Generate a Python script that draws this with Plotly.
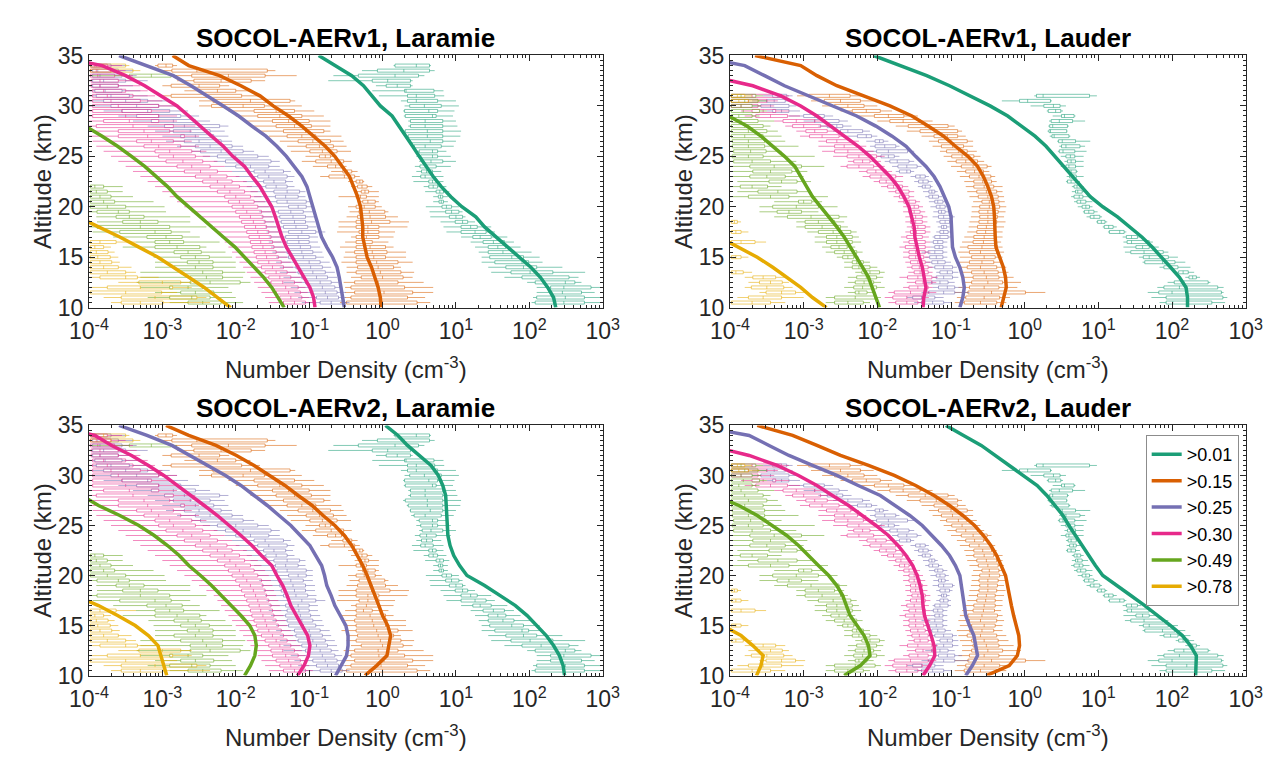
import plotly.graph_objects as go

FONT = "Liberation Sans"
AXC = "#262626"
COLORS = ["#1b9e77", "#d95f02", "#7570b3", "#e7298a", "#66a61e", "#e6ab02"]
BOX_COLORS = ["rgba(27,158,119,0.55)", "rgba(217,95,2,0.55)", "rgba(117,112,179,0.55)",
              "rgba(231,41,138,0.55)", "rgba(102,166,30,0.55)", "rgba(230,171,2,0.55)"]
BIN_LABELS = [">0.01", ">0.15", ">0.25", ">0.30", ">0.49", ">0.78"]
PANEL_TITLES = ["SOCOL-AERv1, Laramie", "SOCOL-AERv1, Lauder",
                "SOCOL-AERv2, Laramie", "SOCOL-AERv2, Lauder"]
X_TICK_EXP = [-4, -3, -2, -1, 0, 1, 2, 3]
Y_TICKS = [10, 15, 20, 25, 30, 35]

# model profiles: log10(number density, cm^-3) at these altitudes (km)
LINE_ALT = [10, 11, 12, 13, 14, 15, 16, 17, 18, 19, 20, 21, 22, 23, 24, 25, 26, 27, 28, 29, 30, 31, 32, 33, 34, 35]

V1_LAR_001 = [2.36, 2.33, 2.25, 2.15, 2.02, 1.86, 1.70, 1.55, 1.39, 1.27, 1.08, 0.93, 0.80, 0.69, 0.59, 0.50, 0.41, 0.32, 0.23, 0.13, -0.03, -0.15, -0.26, -0.42, -0.65, -0.87]
V1_LAR_015 = [-0.02, -0.03, -0.06, -0.10, -0.15, -0.21, -0.24, -0.27, -0.27, -0.28, -0.30, -0.34, -0.39, -0.45, -0.55, -0.65, -0.78, -0.94, -1.10, -1.28, -1.49, -1.67, -1.93, -2.22, -2.64, -2.86]
V1_LAR_025 = [-0.52, -0.54, -0.56, -0.59, -0.62, -0.68, -0.76, -0.83, -0.87, -0.91, -0.94, -0.98, -1.03, -1.10, -1.20, -1.31, -1.44, -1.59, -1.78, -1.96, -2.17, -2.38, -2.61, -2.85, -3.21, -3.59]
V1_LAR_030 = [-0.92, -0.94, -0.99, -1.07, -1.15, -1.23, -1.31, -1.37, -1.41, -1.46, -1.51, -1.59, -1.67, -1.78, -1.88, -2.04, -2.17, -2.33, -2.48, -2.64, -2.80, -3.01, -3.24, -3.50, -3.82, -4.50]
V1_LAR_049 = [-1.34, -1.42, -1.51, -1.62, -1.75, -1.88, -2.01, -2.17, -2.33, -2.48, -2.64, -2.80, -2.93, -3.08, -3.24, -3.42, -3.61, -3.82, -4.05, None, None, None, None, None, None, None]
V1_LAR_078 = [-2.07, -2.25, -2.43, -2.64, -2.85, -3.06, -3.32, -3.58, -3.87, -4.15, None, None, None, None, None, None, None, None, None, None, None, None, None, None, None, None]

V1_LAU_001 = [2.21, 2.21, 2.19, 2.10, 1.98, 1.86, 1.73, 1.59, 1.43, 1.26, 1.06, 0.89, 0.77, 0.65, 0.53, 0.42, 0.29, 0.14, -0.04, -0.23, -0.47, -0.75, -1.02, -1.33, -1.70, -2.05]
V1_LAU_015 = [-0.32, -0.28, -0.25, -0.26, -0.29, -0.34, -0.39, -0.40, -0.40, -0.41, -0.42, -0.45, -0.50, -0.56, -0.64, -0.77, -0.94, -1.10, -1.31, -1.53, -1.83, -2.18, -2.55, -2.82, -3.04, -3.66]
V1_LAU_025 = [-0.88, -0.84, -0.82, -0.84, -0.88, -0.94, -0.98, -0.99, -0.99, -1.00, -1.03, -1.09, -1.15, -1.23, -1.34, -1.48, -1.61, -1.80, -2.02, -2.28, -2.61, -2.91, -3.26, -3.53, -3.80, -4.50]
V1_LAU_030 = [-1.38, -1.37, -1.34, -1.36, -1.39, -1.43, -1.46, -1.49, -1.50, -1.53, -1.57, -1.64, -1.72, -1.83, -1.96, -2.10, -2.26, -2.45, -2.64, -2.82, -3.04, -3.31, -3.69, -4.30, None, None]
V1_LAU_049 = [-1.97, -2.02, -2.07, -2.12, -2.20, -2.28, -2.37, -2.45, -2.55, -2.66, -2.77, -2.88, -2.96, -3.04, -3.12, -3.26, -3.42, -3.58, -3.77, -4.02, None, None, None, None, None, None]
V1_LAU_078 = [-2.69, -2.88, -3.04, -3.23, -3.42, -3.63, -3.90, -4.15, None, None, None, None, None, None, None, None, None, None, None, None, None, None, None, None, None, None]

V2_LAR_001 = [2.48, 2.46, 2.41, 2.33, 2.23, 2.10, 1.97, 1.81, 1.60, 1.39, 1.15, 1.05, 0.97, 0.92, 0.89, 0.88, 0.87, 0.87, 0.86, 0.82, 0.76, 0.66, 0.50, 0.34, 0.21, 0.04]
V2_LAR_015 = [-0.24, -0.08, 0.06, 0.09, 0.11, 0.07, 0.00, -0.05, -0.10, -0.15, -0.21, -0.27, -0.34, -0.42, -0.52, -0.65, -0.81, -0.96, -1.15, -1.33, -1.54, -1.75, -1.99, -2.27, -2.64, -2.95]
V2_LAR_025 = [-0.64, -0.56, -0.49, -0.47, -0.47, -0.50, -0.57, -0.65, -0.70, -0.76, -0.79, -0.83, -0.91, -0.99, -1.12, -1.25, -1.41, -1.57, -1.75, -1.93, -2.14, -2.38, -2.61, -2.87, -3.21, -3.59]
V2_LAR_030 = [-1.16, -1.07, -1.01, -0.99, -1.02, -1.10, -1.17, -1.25, -1.30, -1.36, -1.44, -1.51, -1.65, -1.78, -1.93, -2.09, -2.25, -2.43, -2.61, -2.80, -2.98, -3.19, -3.42, -3.69, -3.92, -4.50]
V2_LAR_049 = [-1.88, -1.80, -1.74, -1.72, -1.74, -1.81, -1.93, -2.06, -2.19, -2.33, -2.48, -2.64, -2.77, -2.93, -3.11, -3.32, -3.58, -3.87, -4.10, None, None, None, None, None, None, None]
V2_LAR_078 = [-2.94, -2.98, -3.01, -3.06, -3.19, -3.37, -3.61, -3.87, -4.20, None, None, None, None, None, None, None, None, None, None, None, None, None, None, None, None, None]

V2_LAU_001 = [2.32, 2.33, 2.33, 2.25, 2.14, 1.98, 1.81, 1.63, 1.44, 1.25, 1.06, 0.96, 0.87, 0.78, 0.68, 0.60, 0.52, 0.41, 0.30, 0.17, -0.02, -0.21, -0.40, -0.59, -0.83, -1.07]
V2_LAU_015 = [-0.52, -0.21, -0.10, -0.07, -0.08, -0.12, -0.15, -0.18, -0.21, -0.24, -0.26, -0.32, -0.38, -0.46, -0.56, -0.68, -0.84, -1.02, -1.23, -1.48, -1.77, -2.12, -2.50, -2.82, -3.15, -3.63]
V2_LAU_025 = [-0.80, -0.71, -0.64, -0.66, -0.69, -0.75, -0.80, -0.82, -0.84, -0.86, -0.88, -0.94, -1.02, -1.13, -1.26, -1.39, -1.56, -1.75, -1.96, -2.26, -2.55, -2.88, -3.20, -3.47, -3.74, -4.50]
V2_LAU_030 = [-1.38, -1.29, -1.22, -1.23, -1.27, -1.32, -1.36, -1.38, -1.39, -1.42, -1.46, -1.52, -1.61, -1.72, -1.85, -2.02, -2.20, -2.39, -2.61, -2.82, -3.07, -3.36, -3.74, -4.30, None, None]
V2_LAU_049 = [-2.45, -2.23, -2.10, -2.12, -2.18, -2.28, -2.37, -2.42, -2.47, -2.55, -2.66, -2.80, -2.93, -3.07, -3.23, -3.42, -3.63, -3.88, -4.20, None, None, None, None, None, None, None]
V2_LAU_078 = [-3.64, -3.58, -3.55, -3.69, -3.85, -4.10, None, None, None, None, None, None, None, None, None, None, None, None, None, None, None, None, None, None, None, None]

# balloon observations: (altitude km, log10 of lower whisker, q1, median, q3, upper whisker)
LAR_BOX_001 = [
    (10.5, 2.03, 2.08, 2.47, 2.75, 2.97), (11.0, 2.05, 2.10, 2.49, 2.75, 2.97),
    (11.5, 2.10, 2.29, 2.45, 2.71, 2.89), (12.0, 2.10, 2.29, 2.47, 2.84, 2.97),
    (12.5, 1.97, 2.08, 2.49, 2.62, 2.71), (13.0, 1.66, 1.90, 2.16, 2.54, 2.67),
    (13.5, 1.48, 1.75, 2.01, 2.32, 2.76), (14.0, 1.44, 1.68, 1.92, 2.10, 2.45),
    (14.5, 1.35, 1.53, 1.90, 1.99, 2.18), (15.0, 1.35, 1.46, 1.76, 1.92, 2.14),
    (15.5, 1.31, 1.44, 1.64, 1.79, 2.03), (16.0, 1.26, 1.44, 1.57, 1.68, 1.88),
    (16.5, 1.20, 1.37, 1.51, 1.66, 1.79), (17.0, 1.07, 1.23, 1.33, 1.48, 1.70),
    (17.5, 0.87, 1.07, 1.26, 1.41, 1.53), (18.0, 0.83, 1.07, 1.20, 1.29, 1.48),
    (18.5, 0.79, 0.99, 1.09, 1.16, 1.26), (19.0, 0.65, 0.91, 1.00, 1.09, 1.13),
    (19.5, 0.64, 0.86, 0.94, 1.04, 1.09), (20.0, 0.59, 0.81, 0.87, 0.94, 1.04),
    (20.5, 0.69, 0.77, 0.80, 0.83, 0.89), (21.0, 0.69, 0.76, 0.79, 0.82, 0.89),
    (21.5, 0.58, 0.73, 0.78, 0.83, 0.91), (22.0, 0.56, 0.63, 0.69, 0.75, 0.87),
    (22.5, 0.42, 0.63, 0.68, 0.73, 0.83), (23.0, 0.40, 0.52, 0.58, 0.69, 0.83),
    (23.5, 0.46, 0.53, 0.60, 0.68, 0.80), (24.0, 0.44, 0.51, 0.60, 0.73, 0.93),
    (24.5, 0.50, 0.54, 0.66, 0.82, 1.00), (25.0, 0.46, 0.52, 0.68, 0.75, 0.93),
    (25.5, 0.46, 0.50, 0.68, 0.75, 0.87), (26.0, 0.39, 0.43, 0.58, 0.80, 0.97),
    (26.5, 0.37, 0.38, 0.65, 0.82, 1.00), (27.0, 0.33, 0.35, 0.61, 0.82, 1.06),
    (27.5, 0.28, 0.31, 0.61, 0.82, 1.07), (28.0, 0.35, 0.38, 0.58, 0.82, 1.02),
    (28.5, 0.35, 0.38, 0.58, 0.82, 1.00), (29.0, 0.29, 0.31, 0.68, 0.73, 0.96),
    (29.5, 0.28, 0.30, 0.63, 0.75, 0.98), (30.0, 0.30, 0.37, 0.57, 0.80, 1.04),
    (30.5, 0.25, 0.34, 0.46, 0.75, 1.00), (31.0, -0.05, 0.34, 0.46, 0.71, 0.84),
    (31.5, -0.14, 0.30, 0.32, 0.70, 0.83), (32.0, -0.09, 0.05, 0.20, 0.38, 0.41),
    (32.5, -0.74, -0.14, 0.07, 0.38, 0.41), (33.0, -0.67, -0.33, 0.17, 0.49, 0.57),
    (33.5, -0.28, -0.07, 0.29, 0.64, 0.71), (34.0, 0.15, 0.17, 0.46, 0.64, 0.66),
]
LAR_BOX_015 = [
    (10.5, -0.58, -0.49, 0.00, 0.47, 0.65), (11.0, -0.51, -0.43, -0.02, 0.34, 0.58),
    (11.5, -0.51, -0.38, 0.02, 0.41, 0.69), (12.0, -0.51, -0.43, -0.05, 0.30, 0.69),
    (12.5, -0.53, -0.38, -0.06, 0.21, 0.56), (13.0, -0.43, -0.29, 0.00, 0.28, 0.41),
    (13.5, -0.49, -0.36, -0.03, 0.25, 0.43), (14.0, -0.49, -0.34, -0.06, 0.15, 0.25),
    (14.5, -0.56, -0.36, -0.08, 0.21, 0.41), (15.0, -0.53, -0.36, -0.12, 0.04, 0.32),
    (15.5, -0.51, -0.38, -0.14, 0.06, 0.32), (16.0, -0.58, -0.36, -0.17, 0.04, 0.15),
    (16.5, -0.51, -0.36, -0.26, -0.14, 0.08), (17.0, -0.43, -0.36, -0.22, -0.05, 0.15),
    (17.5, -0.62, -0.32, -0.20, -0.05, 0.17), (18.0, -0.60, -0.36, -0.20, -0.05, 0.34),
    (18.5, -0.60, -0.36, -0.15, 0.10, 0.36), (19.0, -0.49, -0.34, -0.17, 0.04, 0.21),
    (19.5, -0.45, -0.32, -0.18, 0.03, 0.08), (20.0, -0.47, -0.36, -0.25, -0.10, -0.01),
    (20.5, -0.34, -0.27, -0.20, -0.10, -0.05), (21.0, -0.60, -0.36, -0.30, -0.22, -0.05),
    (21.5, -0.38, -0.29, -0.24, -0.19, -0.05), (22.0, -0.43, -0.34, -0.28, -0.21, -0.14),
    (22.5, -0.47, -0.36, -0.31, -0.27, -0.25), (23.0, -0.85, -0.73, -0.52, -0.38, -0.31),
    (23.5, -0.70, -0.54, -0.48, -0.42, -0.34), (24.0, -0.95, -0.75, -0.64, -0.56, -0.49),
    (24.5, -1.10, -0.91, -0.70, -0.53, -0.42), (25.0, -1.05, -0.86, -0.78, -0.71, -0.64),
    (25.5, -1.25, -0.99, -0.82, -0.62, -0.43), (26.0, -1.30, -1.04, -0.86, -0.67, -0.49),
    (26.5, -1.40, -1.15, -0.95, -0.71, -0.53), (27.0, -1.55, -1.30, -1.10, -0.91, -0.56),
    (27.5, -1.70, -1.35, -1.05, -0.80, -0.71), (28.0, -1.80, -1.45, -1.20, -0.97, -0.71),
    (28.5, -1.85, -1.50, -1.28, -1.00, -0.71), (29.0, -2.00, -1.70, -1.40, -1.10, -0.80),
    (29.5, -2.10, -1.75, -1.45, -1.20, -0.93), (30.0, -2.50, -2.33, -1.90, -1.61, -1.10),
    (30.5, -2.50, -2.31, -1.80, -1.26, -1.19), (31.0, -3.00, -2.88, -2.40, -1.92, -1.67),
    (31.5, -2.70, -2.50, -2.25, -2.00, -1.80), (32.0, -3.00, -2.88, -2.50, -2.22, -2.09),
    (32.5, -2.80, -2.57, -2.20, -1.79, -1.60), (33.0, -2.90, -2.60, -2.10, -1.60, -1.17),
    (33.5, -3.00, -2.87, -2.53, -1.57, -1.46), (34.0, -3.10, -3.06, -2.95, -2.86, -2.80),
]
LAR_BOX_025 = [
    (10.5, -1.10, -0.85, -0.70, -0.55, -0.45), (11.0, -1.15, -0.90, -0.75, -0.60, -0.50),
    (11.5, -1.20, -0.95, -0.78, -0.62, -0.50), (12.0, -1.25, -1.00, -0.82, -0.65, -0.55),
    (12.5, -1.35, -1.05, -0.85, -0.70, -0.60), (13.0, -1.35, -1.10, -0.90, -0.75, -0.62),
    (13.5, -1.40, -1.15, -0.95, -0.78, -0.65), (14.0, -1.40, -1.18, -0.98, -0.82, -0.70),
    (14.5, -1.45, -1.20, -1.00, -0.85, -0.72), (15.0, -1.45, -1.28, -1.08, -0.91, -0.80),
    (15.5, -1.50, -1.30, -1.10, -0.95, -0.82), (16.0, -1.52, -1.32, -1.12, -0.98, -0.85),
    (16.5, -1.55, -1.30, -1.14, -1.00, -0.88), (17.0, -1.55, -1.32, -1.15, -1.00, -0.88),
    (17.5, -1.58, -1.28, -1.10, -0.91, -0.78), (18.0, -1.60, -1.35, -1.18, -1.02, -0.90),
    (18.5, -1.62, -1.38, -1.20, -1.05, -0.92), (19.0, -1.65, -1.40, -1.22, -1.05, -0.92),
    (19.5, -1.68, -1.42, -1.25, -1.08, -0.95), (20.0, -1.70, -1.28, -1.15, -1.04, -0.95),
    (20.5, -1.75, -1.44, -1.30, -1.04, -0.95), (21.0, -1.75, -1.46, -1.32, -1.15, -1.05),
    (21.5, -1.80, -1.48, -1.30, -1.13, -1.05), (22.0, -1.85, -1.59, -1.45, -1.30, -1.20),
    (22.5, -1.90, -1.62, -1.48, -1.32, -1.22), (23.0, -2.00, -1.70, -1.55, -1.30, -1.20),
    (23.5, -2.05, -1.75, -1.60, -1.35, -1.25), (24.0, -2.15, -2.00, -1.80, -1.55, -1.40),
    (24.5, -2.30, -2.14, -1.90, -1.52, -1.40), (25.0, -2.45, -2.25, -2.00, -1.70, -1.55),
    (25.5, -2.60, -2.48, -2.20, -1.90, -1.75), (26.0, -2.80, -2.55, -2.35, -2.05, -1.90),
    (26.5, -2.95, -2.70, -2.50, -2.20, -2.05), (27.0, -3.00, -2.75, -2.55, -2.30, -2.10),
    (27.5, -3.10, -2.85, -2.62, -2.35, -2.15), (28.0, -3.20, -2.97, -2.70, -2.22, -2.10),
    (28.5, -3.40, -3.15, -2.85, -2.55, -2.35), (29.0, -3.60, -3.35, -3.05, -2.75, -2.50),
    (29.5, -3.80, -3.55, -3.20, -2.90, -2.65), (30.0, -4.20, -3.70, -3.35, -3.05, -2.80),
    (30.5, -4.20, -3.80, -3.50, -3.20, -2.90), (31.0, -4.20, -3.90, -3.70, -3.45, -3.20),
    (31.5, -4.20, -3.92, -3.78, -3.55, -3.30), (32.0, -4.20, -3.95, -3.85, -3.60, -3.40),
    (32.5, -4.20, -3.95, -3.80, -3.50, -3.20), (33.0, -4.20, -3.95, -3.85, -3.55, -3.35),
    (33.5, -4.20, -3.95, -3.88, -3.60, -3.40), (34.0, -4.20, -3.97, -3.90, -3.70, -3.50),
]
LAR_BOX_030 = [
    (10.5, -1.55, -1.35, -1.20, -1.05, -0.95), (11.0, -1.60, -1.40, -1.25, -1.10, -1.00),
    (11.5, -1.65, -1.45, -1.28, -1.12, -1.02), (12.0, -1.70, -1.50, -1.32, -1.15, -1.05),
    (12.5, -1.75, -1.52, -1.36, -1.20, -1.10), (13.0, -1.80, -1.55, -1.40, -1.25, -1.12),
    (13.5, -1.85, -1.60, -1.45, -1.30, -1.18), (14.0, -1.90, -1.65, -1.50, -1.35, -1.22),
    (14.5, -1.95, -1.70, -1.55, -1.38, -1.25), (15.0, -2.00, -1.72, -1.58, -1.42, -1.30),
    (15.5, -2.05, -1.75, -1.60, -1.45, -1.32), (16.0, -2.10, -1.78, -1.63, -1.48, -1.35),
    (16.5, -2.15, -1.80, -1.66, -1.50, -1.38), (17.0, -2.20, -1.82, -1.68, -1.52, -1.40),
    (17.5, -2.25, -1.85, -1.70, -1.55, -1.42), (18.0, -2.30, -1.88, -1.73, -1.58, -1.45),
    (18.5, -2.40, -1.92, -1.76, -1.60, -1.48), (19.0, -2.50, -1.95, -1.80, -1.63, -1.50),
    (19.5, -2.60, -2.00, -1.85, -1.65, -1.52), (20.0, -2.70, -2.05, -1.90, -1.70, -1.55),
    (20.5, -2.80, -2.10, -1.95, -1.75, -1.60), (21.0, -2.90, -2.15, -2.00, -1.80, -1.65),
    (21.5, -3.00, -2.25, -2.08, -1.88, -1.70), (22.0, -3.10, -2.35, -2.15, -1.95, -1.78),
    (22.5, -3.20, -2.45, -2.25, -2.05, -1.85), (23.0, -3.30, -2.55, -2.35, -2.12, -1.95),
    (23.5, -3.40, -2.70, -2.48, -2.25, -2.05), (24.0, -3.50, -2.80, -2.60, -2.35, -2.15),
    (24.5, -3.60, -2.95, -2.72, -2.45, -2.25), (25.0, -3.70, -3.05, -2.85, -2.55, -2.35),
    (25.5, -3.80, -3.10, -2.90, -2.60, -2.40), (26.0, -3.90, -3.25, -3.05, -2.75, -2.50),
    (26.5, -3.95, -3.35, -3.15, -2.85, -2.60), (27.0, -4.20, -3.60, -3.20, -2.70, -2.50),
    (27.5, -4.20, -3.60, -3.25, -2.90, -2.60), (28.0, -4.20, -3.90, -3.40, -2.85, -2.55),
    (28.5, -4.20, -3.80, -3.45, -3.05, -2.80), (29.0, -4.20, -3.95, -3.50, -3.05, -2.80),
    (29.5, -4.20, -3.95, -3.55, -3.15, -2.90), (30.0, -4.20, -3.95, -3.60, -3.05, -2.80),
    (30.5, -4.20, -3.95, -3.70, -3.30, -3.00), (31.0, -4.20, -3.95, -3.75, -3.40, -3.10),
    (31.5, -4.20, -3.95, -3.80, -3.50, -3.20), (32.0, -4.20, -3.97, -3.85, -3.60, -3.30),
    (32.5, -4.20, -3.97, -3.85, -3.60, -3.35), (33.0, -4.20, -3.98, -3.88, -3.65, -3.40),
    (33.5, -4.20, -3.98, -3.90, -3.70, -3.50), (34.0, -4.20, -3.98, -3.92, -3.75, -3.55),
]
LAR_BOX_049 = [
    (10.5, -2.90, -2.65, -2.45, -2.20, -1.90), (11.0, -3.20, -2.90, -2.60, -2.35, -2.00),
    (11.5, -3.10, -2.75, -2.55, -2.30, -2.05), (12.0, -3.30, -2.90, -2.65, -2.45, -2.10),
    (12.5, -3.35, -2.62, -2.35, -1.94, -1.80), (13.0, -3.30, -2.62, -2.40, -2.18, -1.90),
    (13.5, -3.30, -2.75, -2.45, -2.18, -1.87), (14.0, -3.10, -2.84, -2.55, -2.31, -2.00),
    (14.5, -3.10, -2.66, -2.50, -2.31, -2.00), (15.0, -3.12, -2.75, -2.55, -2.36, -2.05),
    (15.5, -3.19, -2.84, -2.65, -2.47, -2.14), (16.0, -3.54, -3.10, -2.80, -2.49, -2.40),
    (16.5, -3.36, -3.10, -2.90, -2.71, -2.22), (17.0, -3.67, -3.21, -2.95, -2.73, -2.49),
    (17.5, -3.95, -3.58, -3.10, -2.88, -2.62), (18.0, -4.20, -3.89, -3.30, -2.90, -2.40),
    (18.5, -3.89, -3.54, -3.30, -3.06, -2.62), (19.0, -3.90, -3.63, -3.45, -3.25, -2.62),
    (19.5, -4.20, -3.89, -3.60, -3.45, -2.95), (20.0, -4.20, -3.98, -3.75, -3.50, -2.97),
    (20.5, -4.20, -3.98, -3.80, -3.65, -3.12), (21.0, -4.20, -3.98, -3.85, -3.70, -3.40),
    (21.5, -4.20, -3.98, -3.90, -3.75, -3.54), (22.0, -4.20, -3.98, -3.92, -3.80, -3.54),
    (33.0, -4.20, -3.45, -3.15, -2.88, -2.80),
]
LAR_BOX_078 = [
    (10.5, -3.70, -3.56, -3.30, -2.99, -2.35), (11.0, -3.80, -3.56, -3.10, -2.53, -2.40),
    (11.5, -4.20, -3.98, -3.50, -3.01, -2.80), (12.0, -4.20, -3.75, -3.30, -2.86, -2.60),
    (12.5, -3.60, -3.32, -3.00, -2.75, -2.60), (13.0, -4.20, -3.85, -3.50, -3.34, -3.05),
    (13.5, -4.20, -3.98, -3.75, -3.50, -3.36), (14.0, -4.20, -3.98, -3.80, -3.60, -3.42),
    (14.5, -4.20, -3.98, -3.85, -3.69, -3.58), (15.0, -4.20, -3.98, -3.88, -3.71, -3.60),
    (15.5, -4.20, -3.98, -3.90, -3.74, -3.65), (16.0, -4.20, -3.98, -3.92, -3.80, -3.70),
    (16.5, -4.20, -3.98, -3.85, -3.63, -3.36), (33.5, -4.20, -3.98, -3.70, -3.40, -3.30),
    (34.0, -4.20, -3.98, -3.80, -3.50, -3.45),
]

LAU_BOX_001 = [
    (10.5, 1.83, 1.92, 2.01, 2.54, 2.72), (11.0, 1.72, 1.92, 2.20, 2.69, 2.75),
    (11.5, 1.67, 1.82, 2.00, 2.67, 2.70), (12.0, 1.80, 1.89, 2.10, 2.62, 2.70),
    (12.5, 1.94, 2.03, 2.16, 2.49, 2.52), (13.0, 2.18, 2.23, 2.28, 2.33, 2.38),
    (13.5, 2.05, 2.09, 2.15, 2.22, 2.30), (14.0, 1.83, 1.89, 1.98, 2.08, 2.25),
    (14.5, 1.60, 1.63, 1.87, 2.04, 2.18), (15.0, 1.55, 1.61, 1.69, 1.95, 2.08),
    (15.5, 1.36, 1.44, 1.62, 1.88, 1.95), (16.0, 1.34, 1.51, 1.60, 1.69, 1.82),
    (16.5, 1.34, 1.39, 1.45, 1.69, 1.74), (17.0, 1.33, 1.38, 1.45, 1.53, 1.58),
    (17.5, 1.13, 1.15, 1.29, 1.35, 1.38), (18.0, 1.06, 1.08, 1.14, 1.20, 1.25),
    (18.5, 0.97, 0.99, 1.04, 1.09, 1.12), (19.0, 0.84, 0.89, 0.94, 1.02, 1.05),
    (19.5, 0.79, 0.81, 0.87, 0.94, 0.99), (20.0, 0.72, 0.78, 0.83, 0.88, 0.92),
    (20.5, 0.67, 0.71, 0.76, 0.83, 0.92), (21.0, 0.63, 0.67, 0.74, 0.79, 0.88),
    (21.5, 0.64, 0.69, 0.72, 0.78, 0.86), (22.0, 0.64, 0.67, 0.71, 0.76, 0.80),
    (22.5, 0.56, 0.58, 0.63, 0.69, 0.75), (23.0, 0.57, 0.61, 0.66, 0.70, 0.80),
    (23.5, 0.56, 0.59, 0.63, 0.70, 0.72), (24.0, 0.49, 0.56, 0.60, 0.69, 0.80),
    (24.5, 0.54, 0.58, 0.63, 0.69, 0.80), (25.0, 0.49, 0.56, 0.62, 0.68, 0.80),
    (25.5, 0.45, 0.47, 0.52, 0.68, 0.84), (26.0, 0.47, 0.50, 0.56, 0.75, 0.82),
    (26.5, 0.44, 0.46, 0.51, 0.69, 0.89), (27.0, 0.34, 0.37, 0.40, 0.60, 0.62),
    (27.5, 0.31, 0.33, 0.35, 0.57, 0.58), (28.0, 0.32, 0.34, 0.38, 0.58, 0.60),
    (28.5, 0.33, 0.36, 0.47, 0.65, 0.82), (29.0, 0.38, 0.50, 0.54, 0.67, 0.69),
    (29.5, 0.30, 0.32, 0.42, 0.49, 0.52), (30.0, 0.08, 0.26, 0.39, 0.48, 0.56),
    (30.5, -0.31, -0.07, 0.04, 0.35, 0.37), (31.0, 0.13, 0.16, 0.25, 0.88, 0.98),
]
LAU_BOX_015 = [
    (10.5, -0.95, -0.82, -0.60, -0.38, -0.25), (11.0, -0.92, -0.80, -0.55, -0.34, -0.20),
    (11.5, -0.95, -0.77, -0.45, 0.01, 0.28), (12.0, -0.90, -0.75, -0.55, -0.35, -0.10),
    (12.5, -0.85, -0.72, -0.50, -0.30, -0.05), (13.0, -0.85, -0.70, -0.52, -0.35, -0.15),
    (13.5, -0.88, -0.72, -0.55, -0.36, -0.22), (14.0, -0.90, -0.78, -0.60, -0.38, -0.25),
    (14.5, -0.92, -0.75, -0.58, -0.42, -0.30), (15.0, -0.88, -0.72, -0.55, -0.40, -0.30),
    (15.5, -0.90, -0.75, -0.60, -0.38, -0.28), (16.0, -0.88, -0.77, -0.58, -0.37, -0.30),
    (16.5, -0.85, -0.70, -0.56, -0.41, -0.32), (17.0, -0.82, -0.69, -0.55, -0.40, -0.30),
    (17.5, -0.78, -0.65, -0.53, -0.40, -0.30), (18.0, -0.76, -0.64, -0.52, -0.40, -0.28),
    (18.5, -0.75, -0.62, -0.50, -0.38, -0.26), (19.0, -0.73, -0.61, -0.50, -0.37, -0.28),
    (19.5, -0.72, -0.62, -0.50, -0.36, -0.26), (20.0, -0.72, -0.61, -0.48, -0.34, -0.25),
    (20.5, -0.70, -0.58, -0.48, -0.35, -0.27), (21.0, -0.75, -0.63, -0.50, -0.36, -0.28),
    (21.5, -0.78, -0.65, -0.52, -0.38, -0.30), (22.0, -0.80, -0.69, -0.55, -0.42, -0.30),
    (22.5, -0.82, -0.69, -0.57, -0.45, -0.38), (23.0, -0.88, -0.75, -0.62, -0.46, -0.40),
    (23.5, -0.92, -0.80, -0.68, -0.56, -0.48), (24.0, -1.00, -0.86, -0.70, -0.51, -0.45),
    (24.5, -1.05, -0.93, -0.80, -0.64, -0.55), (25.0, -1.10, -0.99, -0.85, -0.69, -0.60),
    (25.5, -1.15, -1.06, -0.90, -0.78, -0.65), (26.0, -1.25, -1.13, -0.98, -0.83, -0.70),
    (26.5, -1.30, -1.17, -1.00, -0.78, -0.70), (27.0, -1.40, -1.23, -1.05, -0.91, -0.80),
    (27.5, -1.60, -1.42, -1.20, -0.91, -0.85), (28.0, -1.75, -1.58, -1.35, -1.04, -0.95),
    (28.5, -2.00, -1.83, -1.65, -1.42, -1.25), (29.0, -2.25, -2.04, -1.85, -1.64, -1.45),
    (29.5, -2.50, -2.34, -2.15, -1.96, -1.80), (30.0, -2.75, -2.58, -2.40, -2.18, -2.00),
    (30.5, -2.90, -2.72, -2.50, -2.23, -2.05), (31.0, -3.09, -2.93, -2.65, -2.37, -2.20),
]
LAU_BOX_025 = [
    (10.5, -1.50, -1.40, -1.25, -1.10, -1.00), (11.0, -1.60, -1.52, -1.40, -1.22, -1.10),
    (11.5, -1.40, -1.30, -1.10, -0.95, -0.75), (12.0, -1.25, -1.17, -1.05, -0.95, -0.85),
    (12.5, -1.35, -1.26, -1.15, -1.04, -0.95), (13.0, -1.25, -1.20, -1.10, -0.98, -0.90),
    (13.5, -1.20, -1.15, -1.05, -0.98, -0.90), (14.0, -1.30, -1.22, -1.10, -0.98, -0.92),
    (14.5, -1.34, -1.26, -1.18, -1.08, -1.00), (15.0, -1.35, -1.29, -1.20, -1.11, -1.05),
    (15.5, -1.40, -1.31, -1.22, -1.11, -1.05), (16.0, -1.28, -1.22, -1.16, -1.11, -1.05),
    (16.5, -1.28, -1.24, -1.18, -1.11, -1.05), (17.0, -1.25, -1.22, -1.15, -1.04, -1.00),
    (17.5, -1.20, -1.15, -1.10, -1.04, -1.00), (18.0, -1.18, -1.13, -1.10, -1.06, -1.02),
    (18.5, -1.20, -1.15, -1.08, -1.02, -0.98), (19.0, -1.25, -1.17, -1.10, -0.98, -0.95),
    (19.5, -1.24, -1.17, -1.13, -1.08, -1.03), (20.0, -1.28, -1.20, -1.15, -1.08, -1.03),
    (20.5, -1.30, -1.22, -1.18, -1.11, -1.05), (21.0, -1.35, -1.30, -1.25, -1.17, -1.12),
    (21.5, -1.38, -1.30, -1.26, -1.22, -1.18), (22.0, -1.45, -1.39, -1.35, -1.28, -1.25),
    (22.5, -1.50, -1.44, -1.38, -1.31, -1.25), (23.0, -1.55, -1.48, -1.42, -1.35, -1.30),
    (23.5, -1.75, -1.70, -1.60, -1.55, -1.50), (24.0, -1.80, -1.72, -1.60, -1.46, -1.40),
    (24.5, -1.90, -1.83, -1.73, -1.57, -1.50), (25.0, -2.00, -1.95, -1.85, -1.77, -1.70),
    (25.5, -2.15, -2.01, -1.85, -1.59, -1.50), (26.0, -2.10, -2.03, -1.90, -1.75, -1.70),
    (26.5, -2.15, -2.03, -1.97, -1.92, -1.85), (27.0, -2.40, -2.27, -2.15, -2.08, -2.00),
    (27.5, -2.60, -2.50, -2.40, -2.20, -2.10), (28.0, -2.80, -2.68, -2.55, -2.47, -2.35),
    (28.5, -3.00, -2.85, -2.72, -2.52, -2.40), (29.0, -3.20, -3.00, -2.85, -2.72, -2.60),
    (29.5, -3.50, -3.42, -3.30, -3.20, -3.05), (30.0, -3.70, -3.58, -3.45, -3.20, -3.10),
    (30.5, -3.70, -3.50, -3.40, -3.25, -3.15), (31.0, -3.55, -3.42, -3.35, -3.23, -3.15),
]
LAU_BOX_030 = [
    (10.5, -1.85, -1.75, -1.60, -1.45, -1.35), (11.0, -1.90, -1.79, -1.60, -1.39, -1.30),
    (11.5, -1.85, -1.77, -1.55, -1.31, -1.20), (12.0, -1.65, -1.57, -1.45, -1.31, -1.25),
    (12.5, -1.60, -1.48, -1.38, -1.26, -1.20), (13.0, -1.70, -1.59, -1.45, -1.26, -1.18),
    (13.5, -1.58, -1.50, -1.42, -1.31, -1.25), (14.0, -1.60, -1.53, -1.43, -1.31, -1.25),
    (14.5, -1.62, -1.55, -1.45, -1.35, -1.28), (15.0, -1.65, -1.57, -1.48, -1.37, -1.30),
    (15.5, -1.65, -1.57, -1.48, -1.35, -1.28), (16.0, -1.70, -1.62, -1.50, -1.35, -1.28),
    (16.5, -1.65, -1.57, -1.48, -1.35, -1.28), (17.0, -1.68, -1.60, -1.50, -1.39, -1.30),
    (17.5, -1.62, -1.55, -1.47, -1.35, -1.28), (18.0, -1.60, -1.53, -1.45, -1.35, -1.28),
    (18.5, -1.62, -1.55, -1.48, -1.39, -1.32), (19.0, -1.62, -1.55, -1.48, -1.39, -1.32),
    (19.5, -1.65, -1.57, -1.50, -1.42, -1.35), (20.0, -1.65, -1.57, -1.50, -1.44, -1.38),
    (20.5, -1.72, -1.64, -1.57, -1.48, -1.42), (21.0, -1.78, -1.70, -1.63, -1.57, -1.50),
    (21.5, -1.85, -1.75, -1.68, -1.57, -1.50), (22.0, -1.95, -1.86, -1.78, -1.66, -1.58),
    (22.5, -2.05, -1.97, -1.88, -1.75, -1.65), (23.0, -2.20, -2.10, -1.95, -1.75, -1.65),
    (23.5, -2.25, -2.14, -2.02, -1.88, -1.80), (24.0, -2.50, -2.41, -2.25, -2.05, -1.90),
    (24.5, -2.40, -2.32, -2.20, -2.10, -1.95), (25.0, -2.60, -2.41, -2.25, -2.01, -1.90),
    (25.5, -2.75, -2.58, -2.40, -2.19, -2.05), (26.0, -2.80, -2.58, -2.45, -2.27, -2.15),
    (26.5, -2.80, -2.69, -2.55, -2.36, -2.25), (27.0, -3.05, -2.92, -2.75, -2.52, -2.40),
    (27.5, -3.10, -2.97, -2.85, -2.68, -2.55), (28.0, -3.25, -3.15, -3.00, -2.77, -2.60),
    (28.5, -3.40, -3.28, -3.10, -2.85, -2.70), (29.0, -3.80, -3.65, -3.45, -3.22, -3.05),
    (29.5, -3.85, -3.70, -3.55, -3.38, -3.20), (30.0, -4.20, -3.98, -3.85, -3.62, -3.40),
    (30.5, -4.20, -3.98, -3.75, -3.50, -3.35), (31.0, -4.20, -3.98, -3.70, -3.30, -3.20),
]
LAU_BOX_049 = [
    (10.5, -2.70, -2.58, -2.40, -2.19, -2.10), (11.0, -2.70, -2.58, -2.30, -2.03, -1.95),
    (11.5, -2.40, -2.30, -2.25, -2.14, -2.05), (12.0, -2.45, -2.32, -2.20, -2.01, -1.90),
    (12.5, -2.40, -2.30, -2.18, -2.05, -1.95), (13.0, -2.40, -2.28, -2.15, -2.01, -1.92),
    (13.5, -2.30, -2.21, -2.10, -1.97, -1.90), (14.0, -2.45, -2.34, -2.25, -2.10, -2.00),
    (14.5, -2.45, -2.34, -2.28, -2.19, -2.10), (15.0, -2.55, -2.47, -2.40, -2.32, -2.25),
    (15.5, -2.70, -2.58, -2.45, -2.28, -2.20), (16.0, -2.75, -2.63, -2.52, -2.41, -2.30),
    (16.5, -2.85, -2.69, -2.55, -2.34, -2.22), (17.0, -2.85, -2.69, -2.55, -2.34, -2.25),
    (17.5, -2.95, -2.80, -2.60, -2.36, -2.28), (18.0, -3.10, -2.98, -2.75, -2.50, -2.40),
    (18.5, -3.10, -2.98, -2.80, -2.58, -2.45), (19.0, -3.40, -3.22, -2.90, -2.52, -2.41),
    (19.5, -3.60, -3.36, -3.20, -3.03, -2.80), (20.0, -3.60, -3.42, -3.10, -2.80, -2.54),
    (20.5, -3.40, -3.07, -3.00, -2.89, -2.75), (21.0, -4.00, -3.75, -3.45, -3.20, -2.67),
    (21.5, -3.90, -3.62, -3.35, -3.09, -2.90), (22.0, -4.20, -3.86, -3.70, -3.49, -3.30),
    (22.5, -3.90, -3.47, -3.30, -3.09, -2.90), (23.0, -4.20, -3.73, -3.50, -3.25, -3.00),
    (23.5, -4.20, -3.69, -3.45, -3.16, -2.95), (24.0, -4.20, -3.73, -3.40, -3.03, -2.72),
    (24.5, -4.20, -3.95, -3.70, -3.45, -3.10), (25.0, -4.20, -3.97, -3.75, -3.55, -2.85),
    (25.5, -4.20, -3.95, -3.72, -3.51, -3.30), (26.0, -4.20, -3.97, -3.75, -3.53, -3.07),
    (26.5, -4.20, -3.97, -3.75, -3.53, -3.25), (27.0, -4.20, -3.98, -3.80, -3.55, -3.30),
    (27.5, -4.20, -3.98, -3.75, -3.50, -3.35), (28.0, -4.20, -3.98, -3.80, -3.55, -3.45),
    (28.5, -4.20, -3.98, -3.85, -3.62, -3.40), (29.0, -4.20, -3.98, -3.88, -3.70, -3.60),
    (29.5, -4.20, -3.98, -3.82, -3.60, -3.50), (30.0, -4.20, -3.98, -3.85, -3.70, -3.58),
    (30.5, -4.20, -3.98, -3.80, -3.62, -3.50), (31.0, -4.20, -3.98, -3.85, -3.65, -3.55),
]
LAU_BOX_078 = [
    (10.5, -4.20, -3.98, -3.70, -3.45, -3.25), (11.0, -3.90, -3.75, -3.55, -3.30, -3.00),
    (11.5, -3.60, -3.51, -3.30, -3.11, -2.98), (12.0, -3.80, -3.71, -3.50, -3.27, -3.15),
    (12.5, -3.75, -3.60, -3.45, -3.29, -3.20), (13.0, -3.80, -3.69, -3.55, -3.38, -3.25),
    (13.5, -4.20, -3.98, -3.92, -3.82, -3.70), (15.0, -4.20, -3.98, -3.92, -3.85, -3.75),
    (16.5, -4.20, -3.98, -3.85, -3.66, -3.51), (17.5, -4.20, -3.98, -3.92, -3.85, -3.75),
    (18.5, -4.20, -3.98, -3.94, -3.90, -3.85), (30.5, -4.20, -3.98, -3.88, -3.75, -3.60),
    (31.0, -4.20, -3.98, -3.90, -3.80, -3.70),
]

PANEL_LINES = [
    [V1_LAR_001, V1_LAR_015, V1_LAR_025, V1_LAR_030, V1_LAR_049, V1_LAR_078],
    [V1_LAU_001, V1_LAU_015, V1_LAU_025, V1_LAU_030, V1_LAU_049, V1_LAU_078],
    [V2_LAR_001, V2_LAR_015, V2_LAR_025, V2_LAR_030, V2_LAR_049, V2_LAR_078],
    [V2_LAU_001, V2_LAU_015, V2_LAU_025, V2_LAU_030, V2_LAU_049, V2_LAU_078],
]
LAR_BOXES = [LAR_BOX_001, LAR_BOX_015, LAR_BOX_025, LAR_BOX_030, LAR_BOX_049, LAR_BOX_078]
LAU_BOXES = [LAU_BOX_001, LAU_BOX_015, LAU_BOX_025, LAU_BOX_030, LAU_BOX_049, LAU_BOX_078]
PANEL_BOXES = [LAR_BOXES, LAU_BOXES, LAR_BOXES, LAU_BOXES]

# layout geometry (paper fractions)
W, H = 1287, 762
DOM_X = [(71 / W, 600 / W), (731 / W, 1262 / W)]
DOM_Y = [(1 - 305 / H, 1 - 44 / H), (1 - 686 / H, 1 - 427 / H)]

fig = go.Figure()

for p in range(4):
    xa = "x" if p == 0 else f"x{p + 1}"
    ya = "y" if p == 0 else f"y{p + 1}"
    for b, rows in enumerate(PANEL_BOXES[p]):
        fig.add_trace(go.Box(
            y=[r[0] for r in rows],
            lowerfence=[10 ** r[1] for r in rows],
            q1=[10 ** r[2] for r in rows],
            median=[10 ** r[3] for r in rows],
            q3=[10 ** r[4] for r in rows],
            upperfence=[10 ** r[5] for r in rows],
            orientation="h", width=0.3, whiskerwidth=0,
            line=dict(color=BOX_COLORS[b], width=1),
            fillcolor="rgba(255,255,255,0)",
            xaxis=xa, yaxis=ya, showlegend=False, hoverinfo="skip",
        ))
    for b, vals in enumerate(PANEL_LINES[p]):
        fig.add_trace(go.Scatter(
            x=[10 ** v for v in vals if v is not None],
            y=[a for a, v in zip(LINE_ALT, vals) if v is not None],
            mode="lines", line=dict(color=COLORS[b], width=3.5),
            name=BIN_LABELS[b], showlegend=(p == 3),
            xaxis=xa, yaxis=ya, hoverinfo="skip",
        ))

minor_x = [m * 10.0 ** e for e in range(-4, 3) for m in range(2, 10)]
layout = dict(
    width=W, height=H, margin=dict(l=0, r=0, t=0, b=0),
    paper_bgcolor="white", plot_bgcolor="white",
    font=dict(family=FONT, size=23, color=AXC),
    boxmode="overlay",
    legend=dict(x=1159 / W, y=1 - 437 / H, xanchor="left", yanchor="top",
                bgcolor="white", bordercolor="#8c8c8c", borderwidth=1,
                font=dict(family=FONT, size=18, color="black"),
                itemwidth=30, tracegroupgap=0),
    annotations=[],
)
for p in range(4):
    col, row = p % 2, p // 2
    xk = "xaxis" if p == 0 else f"xaxis{p + 1}"
    yk = "yaxis" if p == 0 else f"yaxis{p + 1}"
    ya = "y" if p == 0 else f"y{p + 1}"
    xa = "x" if p == 0 else f"x{p + 1}"
    layout[xk] = dict(
        type="log", range=[-4, 3], domain=DOM_X[col], anchor=ya,
        tickmode="array", tickvals=[10.0 ** e for e in X_TICK_EXP],
        ticktext=[f"10<sup>{e}</sup>" for e in X_TICK_EXP],
        ticks="inside", ticklen=6, tickcolor=AXC, mirror="allticks",
        showline=True, linecolor=AXC, linewidth=1, showgrid=False, zeroline=False,
        tickfont=dict(size=23, color=AXC), ticklabelstandoff=3,
        minor=dict(tickmode="array", tickvals=minor_x, ticks="inside", ticklen=3,
                   tickcolor=AXC, showgrid=False),
    )
    layout[yk] = dict(
        range=[10, 35], domain=DOM_Y[row], anchor=xa,
        tickmode="array", tickvals=Y_TICKS,
        ticks="inside", ticklen=6, tickcolor=AXC, mirror="allticks",
        showline=True, linecolor=AXC, linewidth=1, showgrid=False, zeroline=False,
        tickfont=dict(size=23, color=AXC),
        minor=dict(dtick=0.5, tick0=10, ticks="inside", ticklen=3, tickcolor=AXC, showgrid=False),
    )
    xc = (DOM_X[col][0] + DOM_X[col][1]) / 2
    yc = (DOM_Y[row][0] + DOM_Y[row][1]) / 2
    layout["annotations"] += [
        dict(text=f"<b>{PANEL_TITLES[p]}</b>", xref="paper", yref="paper", x=xc,
             y=DOM_Y[row][1] + 18 / H, xanchor="center", yanchor="middle", showarrow=False,
             font=dict(family=FONT, size=26, color="black")),
        dict(text="Number Density (cm<sup>-3</sup>)", xref="paper", yref="paper", x=xc,
             y=DOM_Y[row][0] - 63 / H, xanchor="center", yanchor="middle", showarrow=False,
             font=dict(family=FONT, size=24, color=AXC)),
        dict(text="Altitude (km)", xref="paper", yref="paper", textangle=-90,
             x=DOM_X[col][0] - 48 / W, y=yc, xanchor="center", yanchor="middle",
             showarrow=False, font=dict(family=FONT, size=24, color=AXC)),
    ]

fig.update_layout(**layout)
fig.write_html("out.html")
